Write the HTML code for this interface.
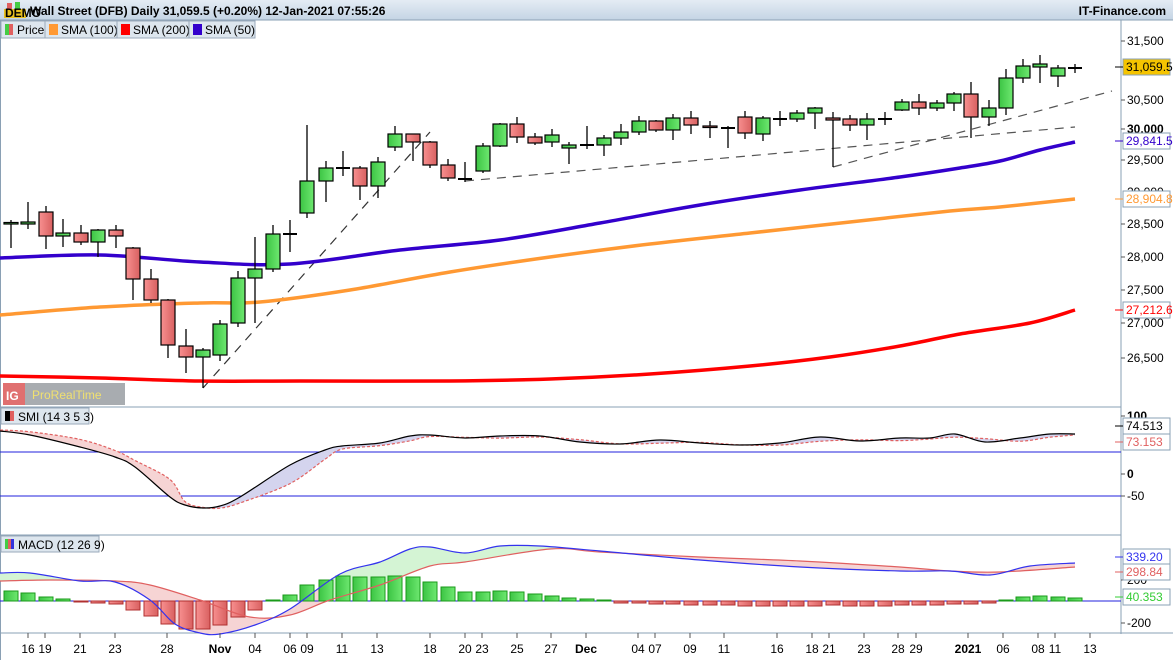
<!DOCTYPE html>
<html><head><meta charset="utf-8"><style>
body{margin:0;width:1173px;height:660px;overflow:hidden;background:#fff;font-family:"Liberation Sans",sans-serif}
svg{display:block}
text{font-family:"Liberation Sans",sans-serif;font-size:12px}
</style></head><body>
<svg id="s" width="1173" height="660" xmlns="http://www.w3.org/2000/svg">
<defs>
<linearGradient id="hd" x1="0" y1="0" x2="0" y2="1"><stop offset="0" stop-color="#e4ecf4"/><stop offset="1" stop-color="#c4d4e4"/></linearGradient>
<linearGradient id="gg" x1="0" x2="1"><stop offset="0" stop-color="#3cc444"/><stop offset="1" stop-color="#6ee870"/></linearGradient>
<linearGradient id="rg" x1="0" x2="1"><stop offset="0" stop-color="#f89090"/><stop offset="1" stop-color="#d86060"/></linearGradient>
<clipPath id="c1"><rect x="0" y="0" width="115" height="660"/><rect x="330" y="0" width="240" height="660"/></clipPath>
<clipPath id="c2"><rect x="115" y="0" width="215" height="660"/><rect x="570" y="0" width="600" height="660"/></clipPath>
<clipPath id="s1"><rect x="0" y="0" width="212" height="660"/></clipPath>
<clipPath id="s2"><rect x="212" y="0" width="900" height="660"/></clipPath>
</defs>
<rect x="0" y="0" width="1173" height="20" fill="url(#hd)"/>
<line x1="0" y1="20" x2="1173" y2="20" stroke="#8aa0b4"/>
<rect x="4" y="9" width="22" height="9" fill="#e8c020"/><rect x="7" y="3" width="5" height="6" fill="#e06060"/><rect x="15" y="2" width="5" height="7" fill="#44cc44"/>
<text x="5" y="17" font-size="6.5" fill="#000" font-weight="bold">DEMO</text>
<text x="30" y="15" font-weight="bold" font-size="12">Wall Street (DFB) Daily 31,059.5 (+0.20%) 12-Jan-2021 07:55:26</text>
<text x="1166" y="15" font-weight="bold" font-size="12" text-anchor="end">IT-Finance.com</text>
<g font-size="12">
<rect x="1" y="21" width="44" height="17" fill="#dde6ee" stroke="#9aaabb"/><rect x="5" y="24" width="4" height="11" fill="#44cc44"/><rect x="9" y="24" width="4" height="11" fill="#e06060"/><text x="17" y="34">Price</text>
<rect x="45" y="21" width="72" height="17" fill="#dde6ee" stroke="#9aaabb"/><rect x="49" y="24" width="9" height="11" fill="#ff9933"/><text x="61" y="34">SMA (100)</text>
<rect x="117" y="21" width="72" height="17" fill="#dde6ee" stroke="#9aaabb"/><rect x="121" y="24" width="9" height="11" fill="#f00"/><text x="133" y="34">SMA (200)</text>
<rect x="189" y="21" width="66" height="17" fill="#dde6ee" stroke="#9aaabb"/><rect x="193" y="24" width="9" height="11" fill="#3300cc"/><text x="205" y="34">SMA (50)</text>
</g>
<line x1="1121" y1="20" x2="1121" y2="634" stroke="#8aa0b4"/>
<line x1="0" y1="407" x2="1121" y2="407" stroke="#8aa0b4"/>
<line x1="0" y1="535" x2="1121" y2="535" stroke="#8aa0b4"/>
<line x1="0" y1="633" x2="1173" y2="633" stroke="#8aa0b4"/>
<line x1="0.5" y1="20" x2="0.5" y2="660" stroke="#8aa0b4"/>
<g id="g"></g>
<rect x="3" y="383" width="122" height="22" fill="#a8acb0"/><rect x="3" y="383" width="22" height="22" fill="#e07070"/>
<text x="6" y="400" fill="#fff" font-size="14" font-weight="bold">IG</text><text x="32" y="399" fill="#f0e070" font-size="14">ProRealTime</text>
<rect x="1" y="408" width="88" height="16" fill="#dde6ee" stroke="#9aaabb"/><rect x="5" y="411" width="5" height="10" fill="#000"/><rect x="10" y="411" width="4" height="10" fill="#e06060"/><text x="18" y="421">SMI (14 3 5 3)</text>
<rect x="1" y="536" width="98" height="16" fill="#dde6ee" stroke="#9aaabb"/><rect x="5" y="539" width="3" height="10" fill="#44cc44"/><rect x="8" y="539" width="3" height="10" fill="#e06060"/><rect x="11" y="539" width="3" height="10" fill="#3333dd"/><text x="18" y="549">MACD (12 26 9)</text>
</svg>
<script>
const NS="http://www.w3.org/2000/svg",g=document.getElementById('g');
function el(t,a,txt){const e=document.createElementNS(NS,t);for(const k in a)e.setAttribute(k,a[k]);if(txt!==undefined)e.textContent=txt;g.appendChild(e);return e;}
function sm(p){let d='M'+p[0][0]+','+p[0][1];for(let i=0;i<p.length-1;i++){const a=p[Math.max(0,i-1)],b=p[i],c=p[i+1],e=p[Math.min(p.length-1,i+2)];
d+=' C'+(b[0]+(c[0]-a[0])/6)+','+(b[1]+(c[1]-a[1])/6)+' '+(c[0]-(e[0]-b[0])/6)+','+(c[1]-(e[1]-b[1])/6)+' '+c[0]+','+c[1];}return d;}
function pl(pts,st,w,extra){const a={d:sm(pts),fill:'none',stroke:st,'stroke-width':w};Object.assign(a,extra||{});el('path',a);}
function area(a,b,fill,clip){const r=b.slice().reverse();el('path',{d:sm(a)+' L'+r[0][0]+','+r[0][1]+' '+sm(r).slice(1).replace(/^[^C]*/,'')+' Z',fill:fill,'clip-path':'url(#'+clip+')'});}
const yt=[[41,'31,500'],[100,'30,500'],[129,'30,000'],[160,'29,500'],[224,'28,500'],[257,'28,000'],[290,'27,500'],[323,'27,000'],[358,'26,500']];
yt.forEach(([y,t])=>{el('line',{x1:1121,y1:y,x2:1125,y2:y,stroke:'#555'});el('text',{x:1127,y:y+4,'font-size':12,'font-weight':t=='30,000'?'bold':'normal'},t);});
el('text',{x:1127,y:196,'font-size':12},'29,000');
const dash={'stroke-dasharray':'9,7'};
function ln(a,b,c,w){el('line',{x1:a[0],y1:a[1],x2:b[0],y2:b[1],stroke:c,'stroke-width':w,'stroke-dasharray':'9,7'});}
ln([203,388],[430,132],'#333',1.2);
ln([465,181],[1075,127],'#555',1.2);
ln([833,167],[1112,91],'#555',1.2);
pl([[0,376],[100,378],[200,381],[300,381],[450,381],[550,379],[650,374],[750,366],[830,357],[900,346],[960,334],[1030,323],[1075,310]],'#f00',3.5);
pl([[0,315],[100,307],[200,303],[260,302],[350,290],[450,272],[550,257],[650,244],[750,233],[850,222],[950,211],[1000,207],[1075,199]],'#ff9933',3.5);
pl([[0,258],[100,255],[200,262],[290,264],[400,250],[500,240],[600,223],[700,205],[800,190],[900,177],[960,168],[1000,161],[1040,150],[1075,142]],'#3300cc',3.5);
const C=[[11,224,222.5,220,248],[28,224,222,202,229],[46,212,236,206,249],[63,236,233,219,247],[81,233,242,225,245],[98,242,230,229,257],[116,230,236,225,248],[133,248,279,247,300],[151,279,300,269,303],[168,300,345,299,358],[186,346,357,329,373],[203,357,350,348,388],[220,355,324,320,361],[238,323,278,271,327],[255,278,269,237,323],[273,269,234,225,272],[290,234,234,220,252],[307,213,181,125,218],[326,181,168,161,202],[343,168,168,151,176],[360,168,186,166,200],[378,186,162,157,198],[395,147,134,126,151],[413,134,142,134,161],[430,142,165,141,168],[448,165,178,159,181],[465,179,179,162,182],[483,171,146,143,173],[500,146,124,123,147],[517,124,137,117,143],[535,137,143,133,145],[552,142,135,129,147],[569,148,145,142,164],[587,145,145,126,149],[604,145,138,135,156],[621,138,132,124,145],[639,132,121,116,135],[656,121,130,120,132],[673,130,118,114,140],[691,118,125,111,134],[710,126,127.5,121,138],[728,128,128,126,148],[745,117,133,111,139],[763,134,118,116,141],[780,119,119,111,126],[797,119,113,110,122],[815,113,108,107,129],[833,118,120,112,167],[850,119,125,115,131],[867,125,119,113,140],[885,119,119,112,125],[902,110,102,99,111],[919,102,108,94,115],[937,108,103,100,111],[954,103,94,92,111],[971,94,117,82,138],[989,117,108,100,126],[1006,108,78,69,115],[1023,78,66,59,83],[1040,67,64,55,83],[1058,76,68,65,87],[1075,68,68,64,73]];
C.forEach(([x,o,c,h,l])=>{el('line',{x1:x,y1:h,x2:x,y2:l,stroke:'#000','stroke-width':1.3});
 if(o==c){el('line',{x1:x-7,y1:o,x2:x+7,y2:o,stroke:'#000','stroke-width':2});return;}
 const t=Math.min(o,c),b=Math.max(o,c);el('rect',{x:x-7,y:t,width:14,height:Math.max(b-t,1.5),fill:c<o?'url(#gg)':'url(#rg)',stroke:'#000','stroke-width':1.2});});
function box(y,t,col,bg){el('rect',{x:1123,y:y-8,width:47,height:16,fill:bg||'#fff',stroke:'#8aa0b4'});el('text',{x:1126,y:y+4,fill:col,'font-size':11.5},t);el('line',{x1:1115,y1:y,x2:1123,y2:y,stroke:col});}
box(67,'31,059.5','#000','#f5c400');box(141,'29,841.5','#3300cc');box(199,'28,904.8','#ff9933');box(310,'27,212.6','#f00');
// SMI
el('line',{x1:0,y1:452,x2:1121,y2:452,stroke:'#2222dd'});el('line',{x1:0,y1:496,x2:1121,y2:496,stroke:'#2222dd'});
const smi=[[0,431],[30,435],[80,447],[115,457],[135,467],[170,497],[185,505],[203,508],[220,506],[240,497],[290,465],[325,450],[342,446],[380,443],[410,436],[430,435],[465,438],[500,436],[540,436],[580,442],[620,444],[660,440],[700,443],[740,445],[780,443],[820,437],[860,441],[900,438],[930,438],[955,434],[985,442],[1020,438],[1050,434],[1075,434]];
const sig=smi.map(([x,y],i)=>{const p=smi[Math.max(0,i-1)];return [x,(y*0.45+p[1]*0.55)+(i<6?-1:1)];});
area(smi,sig,'#f6d4d4','s1');area(smi,sig,'#d4d4ee','s2');
pl(sig,'#e06060',1.2,{'stroke-dasharray':'3,2'});pl(smi,'#000',1.2);
[[416,'100'],[474,'0'],[496,'-50']].forEach(([y,t])=>{el('line',{x1:1121,y1:y,x2:1125,y2:y,stroke:'#555'});el('text',{x:1127,y:y+4,'font-size':12,'font-weight':t=='0'||t=='100'?'bold':'normal'},t);});
box(426,'74.513','#000');box(442,'73.153','#e06060');
// MACD
const ml=[[0,573],[30,573],[80,581],[115,582],[150,600],[175,624],[200,633],[220,634],[255,625],[290,609],[340,574],[380,562],[410,549],[430,547],[465,553],[500,546],[540,546],[600,551],[700,560],[800,567],[900,571],[950,571],[990,575],[1030,566],[1075,563]];
const sl=[[0,581],[50,580],[115,581],[150,585],[200,600],[250,617],[290,615],[330,600],[380,585],[430,566],[465,562],[550,549],[600,552],[700,557],[800,561],[900,567],[950,571],[1000,572],[1075,567]];
area(ml,sl,'#d4f4d4','c1');area(ml,sl,'#f6d4d4','c2');
el('line',{x1:0,y1:601,x2:1121,y2:601,stroke:'#2222dd'});
const H=[591,593,597,599,602,603,604,610,616,624,629,629,625,617,610,600,595,585,580,576,577,577,576,577,582,587,592,592,591,592,594,596,598,599,600,603,603,604,604,605,605,605,606,606,606,606,606,605,606,606,606,605,605,605,604,604,603,600,597,596,597,598];
C.forEach(([x],i)=>{const v=H[i];const t=Math.min(v,601),b=Math.max(v,601);el('rect',{x:x-7,y:t,width:14,height:Math.max(b-t,1),fill:v<601?'url(#gg)':'url(#rg)',stroke:v<601?'#1a9a1a':'#b03030','stroke-width':1});});
pl(sl,'#e06060',1.2);pl(ml,'#3333ee',1.2);
[[580,'200'],[623,'-200']].forEach(([y,t])=>{el('line',{x1:1121,y1:y,x2:1125,y2:y,stroke:'#555'});el('text',{x:1127,y:y+4,'font-size':12},t);});
box(557,'339.20','#3333ee');box(572,'298.84','#e06060');box(597,'40.353','#33cc33');
const xl=[[28,'16'],[45,'19'],[80,'21'],[115,'23'],[167,'28'],[220,'Nov'],[255,'04'],[290,'06'],[307,'09'],[342,'11'],[377,'13'],[430,'18'],[465,'20'],[482,'23'],[517,'25'],[551,'27'],[586,'Dec'],[638,'04'],[655,'07'],[690,'09'],[724,'11'],[777,'16'],[812,'18'],[829,'21'],[864,'23'],[898,'28'],[916,'29'],[968,'2021'],[1003,'06'],[1038,'08'],[1055,'11'],[1090,'13']];
xl.forEach(([x,t])=>{el('line',{x1:x,y1:633,x2:x,y2:638,stroke:'#555'});el('text',{x:x,y:653,'text-anchor':'middle','font-size':12,'font-weight':(t=='Nov'||t=='Dec'||t=='2021')?'bold':'normal'},t);});
</script>
</body></html>
